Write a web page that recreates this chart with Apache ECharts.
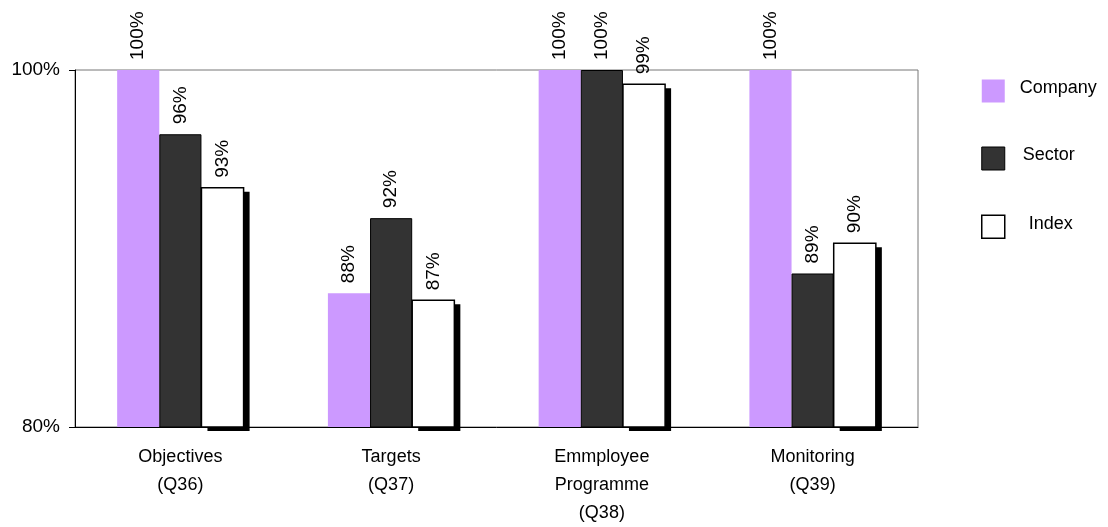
<!DOCTYPE html>
<html>
<head>
<meta charset="utf-8">
<script src="https://cdn.jsdelivr.net/npm/echarts@6/dist/echarts.min.js"></script>
<style>
  html, body { margin: 0; padding: 0; background: #fff; }
  #chart { width: 1108px; height: 527px; }
</style>
</head>
<body>
<div id="chart"></div>
<script>
// Survey categories and results (percent of respondents)
const categories = [
  'Objectives\n(Q36)',
  'Targets\n(Q37)',
  'Emmployee\nProgramme\n(Q38)',
  'Monitoring\n(Q39)'
];
const companyValues = [100, 87.5, 100, 100];
const sectorValues = [96.4, 91.7, 100, 88.6];
const indexValues = [93.4, 87.1, 99.2, 90.3];
const yTicks = [80, 100];

const FONT = '"Liberation Sans", Arial, sans-serif';
const CATEGORY_GAP = 0.4;   // share of each category band left empty
const BARS_PER_GROUP = 3;

const chart = echarts.init(document.getElementById('chart'), null, { renderer: 'canvas' });

const valueLabel = {
  show: true,
  position: 'top',
  rotate: 90,
  align: 'left',
  verticalAlign: 'middle',
  distance: 10,
  color: '#000',
  fontFamily: FONT,
  fontSize: 19,
  formatter: p => Math.round(p.value) + '%'
};

// Outline for the Index bars, drawn on top of the shadowed white fill
function renderIndexOutline(params, api) {
  const ci = api.value(0);
  const v = api.value(1);
  const top = api.coord([ci, v]);
  const base = api.coord([ci, yTicks[0]]);
  const band = api.size([1, 0])[0];
  const bw = band * (1 - CATEGORY_GAP) / BARS_PER_GROUP;
  const x = top[0] + 0.5 * bw;
  return {
    type: 'rect',
    shape: { x: x, y: top[1], width: bw, height: base[1] - top[1] },
    style: { fill: null, stroke: '#000', lineWidth: 1.5 }
  };
}

chart.setOption({
  animation: false,
  backgroundColor: '#fff',
  grid: {
    left: 75, right: 190, top: 70, bottom: 97,
    show: true,
    borderColor: '#777',
    borderWidth: 1,
    backgroundColor: 'transparent'
  },
  legend: {
    orient: 'vertical',
    left: 981,
    top: 79,
    padding: 0,
    itemWidth: 23,
    itemHeight: 23,
    itemGap: 44,
    icon: 'rect',
    textStyle: {
      color: '#000',
      fontFamily: FONT,
      fontSize: 18,
      rich: {
        c: { fontFamily: FONT, fontSize: 18, padding: [0, 0, 6, 10] },
        s: { fontFamily: FONT, fontSize: 18, padding: [0, 0, 6, 13] },
        i: { fontFamily: FONT, fontSize: 18, padding: [0, 0, 6, 19] }
      }
    },
    formatter: name => {
      const key = { Company: 'c', Sector: 's', Index: 'i' }[name];
      return '{' + key + '|' + name + '}';
    },
    data: [
      { name: 'Company', itemStyle: { color: '#CC99FF', borderWidth: 0 } },
      { name: 'Sector', itemStyle: { color: '#333333', borderColor: '#000', borderWidth: 1 } },
      { name: 'Index', itemStyle: { color: '#ffffff', borderColor: '#000', borderWidth: 1.5, shadowColor: 'transparent', shadowBlur: 0, shadowOffsetX: 0, shadowOffsetY: 0 } }
    ]
  },
  xAxis: {
    type: 'category',
    data: categories,
    axisLine: { show: true, lineStyle: { color: '#000', width: 1 } },
    axisTick: { show: false },
    axisLabel: {
      color: '#000',
      fontFamily: FONT,
      fontSize: 18,
      lineHeight: 28,
      margin: 16,
      interval: 0
    },
    splitLine: { show: false }
  },
  yAxis: {
    type: 'value',
    min: yTicks[0],
    max: yTicks[yTicks.length - 1],
    interval: yTicks[1] - yTicks[0],
    axisLine: { show: true, lineStyle: { color: '#000', width: 1 } },
    axisTick: { show: true, length: 6, lineStyle: { color: '#000' } },
    axisLabel: {
      color: '#000',
      fontFamily: FONT,
      fontSize: 19,
      margin: 15,
      formatter: v => v + '%'
    },
    splitLine: { show: false }
  },
  series: [
    {
      name: 'Company',
      type: 'bar',
      data: companyValues,
      barGap: '0%',
      barCategoryGap: (CATEGORY_GAP * 100) + '%',
      itemStyle: { color: '#CC99FF' },
      label: valueLabel
    },
    {
      name: 'Sector',
      type: 'bar',
      data: sectorValues,
      barGap: '0%',
      barCategoryGap: (CATEGORY_GAP * 100) + '%',
      itemStyle: { color: '#333333', borderColor: '#000', borderWidth: 1 },
      label: valueLabel
    },
    {
      name: 'Index',
      type: 'bar',
      data: indexValues,
      barGap: '0%',
      barCategoryGap: (CATEGORY_GAP * 100) + '%',
      itemStyle: {
        color: '#ffffff',
        borderWidth: 0,
        shadowColor: '#000',
        shadowBlur: 0,
        shadowOffsetX: 6,
        shadowOffsetY: 4
      },
      label: valueLabel
    },
    {
      name: 'Index outline',
      type: 'custom',
      renderItem: renderIndexOutline,
      data: indexValues.map((v, i) => [i, v]),
      encode: { x: 0, y: 1 },
      z: 3,
      silent: true
    }
  ]
});
</script>
</body>
</html>
